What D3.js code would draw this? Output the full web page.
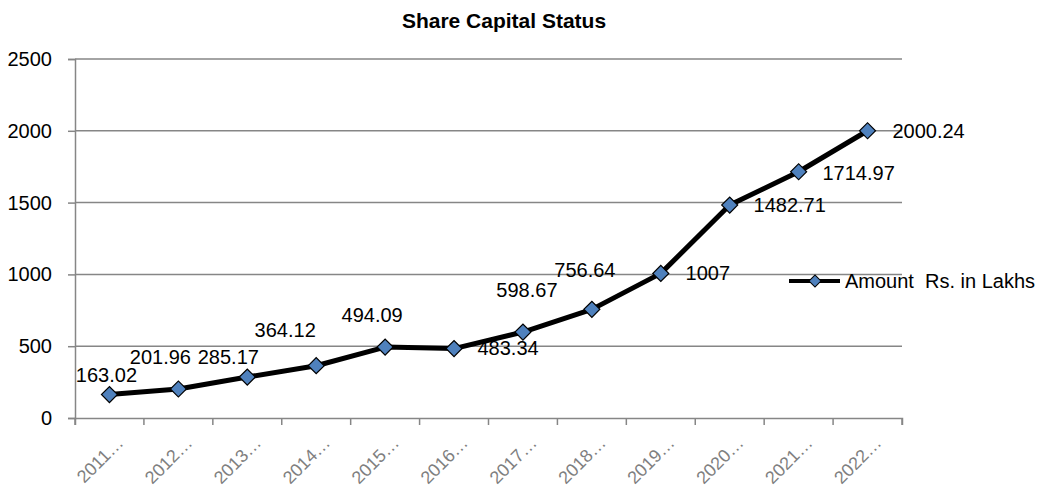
<!DOCTYPE html>
<html>
<head>
<meta charset="utf-8">
<script src="https://cdn.jsdelivr.net/npm/d3@7"></script>
<style>
  body { margin: 0; background: #fff; }
  text { font-family: "Liberation Sans", Arial, sans-serif; }
</style>
</head>
<body>
<div id="container"></div>
<script>
/* CONSTANTS AND GLOBALS */
const width = 1039,
  height = 489,
  margin = { top: 59, bottom: 71, left: 75, right: 137 };

// chart data
const years = ["2011…", "2012…", "2013…", "2014…", "2015…", "2016…", "2017…", "2018…", "2019…", "2020…", "2021…", "2022…"];
const amounts = [163.02, 201.96, 285.17, 364.12, 494.09, 483.34, 598.67, 756.64, 1007, 1482.71, 1714.97, 2000.24];
const labels = ["163.02", "201.96", "285.17", "364.12", "494.09", "483.34", "598.67", "756.64", "1007", "1482.71", "1714.97", "2000.24"];
const yTicks = [0, 500, 1000, 1500, 2000, 2500];
const seriesName = "Amount  Rs. in Lakhs";

// where each data label sits relative to its point (dx, dy of baseline)
const labelOffsets = [[-3, -13], [-18, -25], [-19, -13], [-31, -29], [-13, -25], [54, 6], [4, -35], [-7, -32], [47, 7], [60, 7], [60, 8], [61, 7]];

let xScale, yScale;

function init() {
  xScale = d3.scaleBand()
    .domain(years)
    .range([margin.left, width - margin.right]);

  yScale = d3.scaleLinear()
    .domain([0, 2500])
    .range([height - margin.bottom, margin.top]);

  draw();
}

function draw() {
  const svg = d3.select("#container")
    .append("svg")
    .attr("width", width)
    .attr("height", height);

  // gridlines
  svg.append("g")
    .selectAll("line")
    .data(yTicks.filter(d => d > 0))
    .join("line")
    .attr("x1", margin.left)
    .attr("x2", width - margin.right)
    .attr("y1", d => yScale(d))
    .attr("y2", d => yScale(d))
    .attr("stroke", "#868686")
    .attr("stroke-width", 1.5);

  // y axis
  const yAxis = d3.axisLeft(yScale).tickValues(yTicks).tickFormat(d3.format("d")).tickSize(7).tickPadding(16);
  const yG = svg.append("g")
    .attr("transform", `translate(${margin.left},0)`)
    .call(yAxis);
  yG.select(".domain").attr("stroke", "#868686").attr("stroke-width", 1.5);
  yG.selectAll(".tick line").attr("stroke", "#868686").attr("stroke-width", 1.5);
  yG.selectAll(".tick text")
    .attr("font-size", 20)
    .attr("fill", "#000")
    .attr("font-family", "Liberation Sans, Arial, sans-serif");

  // x axis
  const xAxis = d3.axisBottom(xScale).tickSize(7).tickSizeOuter(7);
  const xG = svg.append("g")
    .attr("transform", `translate(0,${height - margin.bottom})`)
    .call(xAxis);
  xG.select(".domain").attr("stroke", "#868686").attr("stroke-width", 1.5);
  // ticks at band edges
  xG.selectAll(".tick line")
    .attr("x1", -xScale.bandwidth() / 2)
    .attr("x2", -xScale.bandwidth() / 2)
    .attr("stroke", "#868686")
    .attr("stroke-width", 1.5);
  xG.append("line")
    .attr("x1", width - margin.right).attr("x2", width - margin.right)
    .attr("y1", 0).attr("y2", 7)
    .attr("stroke", "#868686").attr("stroke-width", 1.5);
  xG.selectAll(".tick text")
    .attr("font-size", 18)
    .attr("fill", "#7f7f7f")
    .attr("font-family", "Liberation Sans, Arial, sans-serif")
    .attr("text-anchor", "end")
    .attr("dy", 0)
    .attr("y", 0)
    .attr("transform", "translate(15,26) rotate(-45)");

  const cx = d => xScale(d) + xScale.bandwidth() / 2;

  // line
  const line = d3.line()
    .x((d, i) => cx(years[i]))
    .y(d => yScale(d));

  svg.append("path")
    .datum(amounts)
    .attr("d", line)
    .attr("fill", "none")
    .attr("stroke", "#000")
    .attr("stroke-width", 5)
    .attr("stroke-linejoin", "round");

  // markers
  const diamond = d3.symbol().type(d3.symbolSquare).size(128);
  svg.selectAll("path.marker")
    .data(amounts)
    .join("path")
    .attr("class", "marker")
    .attr("d", diamond)
    .attr("transform", (d, i) => `translate(${cx(years[i])},${yScale(d)}) rotate(45)`)
    .attr("fill", "#4f81bd")
    .attr("stroke", "#000")
    .attr("stroke-width", 1.2);

  // data labels
  svg.selectAll("text.label")
    .data(amounts)
    .join("text")
    .attr("class", "label")
    .attr("x", (d, i) => cx(years[i]) + labelOffsets[i][0])
    .attr("y", (d, i) => yScale(d) + labelOffsets[i][1])
    .attr("text-anchor", "middle")
    .attr("font-size", 20)
    .attr("fill", "#000")
    .text((d, i) => labels[i]);

  // title
  svg.append("text")
    .attr("x", 504)
    .attr("y", 28)
    .attr("text-anchor", "middle")
    .attr("font-size", 21)
    .attr("font-weight", "bold")
    .text("Share Capital Status");

  // legend
  const lg = svg.append("g").attr("transform", "translate(789,281)");
  lg.append("line")
    .attr("x1", 0).attr("x2", 51)
    .attr("stroke", "#000").attr("stroke-width", 4);
  lg.append("path")
    .attr("d", d3.symbol().type(d3.symbolSquare).size(72))
    .attr("transform", "translate(26,0) rotate(45)")
    .attr("fill", "#4f81bd")
    .attr("stroke", "#000")
    .attr("stroke-width", 1);
  lg.append("text")
    .attr("x", 56)
    .attr("y", 7)
    .attr("font-size", 20)
    .style("white-space", "pre")
    .text(seriesName);
}

init();
</script>
</body>
</html>
